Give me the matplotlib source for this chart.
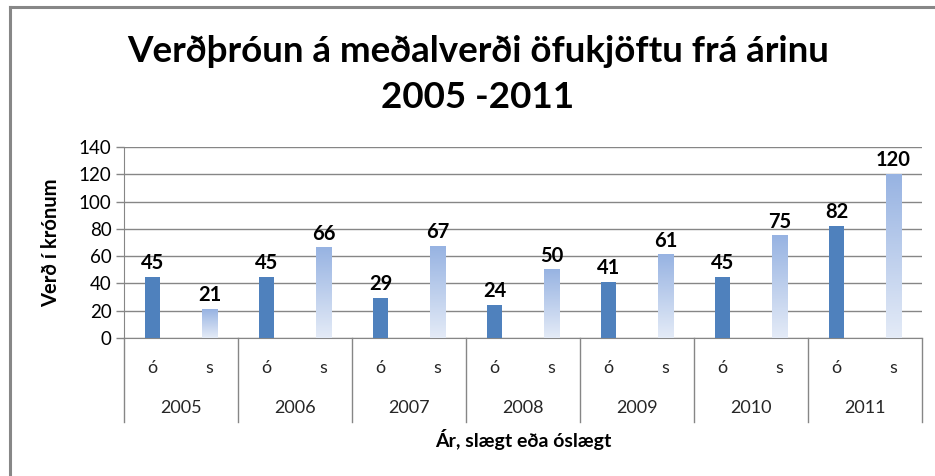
#!/usr/bin/env python3
"""Price development of average value 2005-2011, grouped by year and category."""

import matplotlib.pyplot as plt
import numpy as np
from matplotlib.lines import Line2D
from matplotlib.colors import LinearSegmentedColormap

years = ["2005", "2006", "2007", "2008", "2009", "2010", "2011"]
kinds = ["ó", "s"]
values_o = [45, 45, 29, 24, 41, 45, 82]
values_s = [21, 66, 67, 50, 61, 75, 120]

plt.rcParams["font.family"] = ["Lato", "DejaVu Sans"]

W, H = 935, 476
fig = plt.figure(figsize=(W / 100, H / 100), dpi=100)
fig.patch.set_facecolor("white")

left, right, top, bottom = 124, 922, 147, 338
ax = fig.add_axes([left / W, 1 - bottom / H, (right - left) / W, (bottom - top) / H])
ax_h = bottom - top

grey = "#868686"
blue = "#4F81BD"
grad = LinearSegmentedColormap.from_list("sgrad", ["#E4EBF7", "#97B3E2"])

n = len(years)
pos_o = np.arange(n) * 2
pos_s = pos_o + 1
width = 0.27

ax.bar(pos_o, values_o, width=width, color=blue, zorder=3)
gradient = np.linspace(0, 1, 256).reshape(-1, 1)
for x, v in zip(pos_s, values_s):
    ax.imshow(gradient, cmap=grad, origin="lower", aspect="auto",
              extent=[x - width / 2, x + width / 2, 0, v], zorder=3)

for x, v in zip(pos_o, values_o):
    ax.text(x, v + 3, str(v), ha="center", va="bottom", fontsize=14.5, fontweight="bold", color="black")
for x, v in zip(pos_s, values_s):
    ax.text(x, v + 3, str(v), ha="center", va="bottom", fontsize=14.5, fontweight="bold", color="black")

ax.set_xlim(-0.5, 2 * n - 0.5)
ax.set_ylim(0, 140)
ax.set_yticks(np.arange(0, 141, 20))
ax.tick_params(axis="y", labelsize=13.5, length=6, color=grey, width=1, pad=3)
ax.tick_params(axis="x", length=0, labelbottom=False)
ax.yaxis.grid(True, color=grey, linewidth=1, zorder=0)
ax.set_axisbelow(True)
for side in ["top", "right"]:
    ax.spines[side].set_visible(False)
ax.spines["left"].set_color(grey)
ax.spines["bottom"].set_color(grey)

xt = ax.get_xaxis_transform()
for x, k in zip(np.concatenate([pos_o, pos_s]), [kinds[0]] * n + [kinds[1]] * n):
    ax.text(x, -30 / ax_h, k, transform=xt, ha="center", va="center", fontsize=13, color="#262626")
for i, yr in enumerate(years):
    ax.text(2 * i + 0.5, -70 / ax_h, yr, transform=xt, ha="center", va="center", fontsize=13, color="#262626")
for b in np.arange(-0.5, 2 * n, 2):
    ax.add_line(Line2D([b, b], [0, -84 / ax_h], transform=xt, color=grey, lw=1, clip_on=False))

fig.text(523 / W, 1 - 440 / H, "Ár, slægt eða óslægt", ha="center", va="center",
         fontsize=14, fontweight="bold")
fig.text(51 / W, 1 - 243 / H, "Verð í krónum", rotation=90, ha="center", va="center",
         fontsize=14.5, fontweight="bold")

fig.text(478 / W, 1 - 52 / H, "Verðþróun á meðalverði öfukjöftu frá árinu", ha="center", va="center",
         fontsize=26.5, fontweight="bold")
fig.text(478 / W, 1 - 97 / H, "2005 -2011", ha="center", va="center", fontsize=26.5, fontweight="bold")

# chart frame (top and left edges visible)
fig.add_artist(Line2D([10 / W, 10 / W], [0, 1 - 7 / H], transform=fig.transFigure, color="#878787", lw=2.2))
fig.add_artist(Line2D([10 / W, 1], [1 - 7 / H, 1 - 7 / H], transform=fig.transFigure, color="#878787", lw=2.2))

fig.savefig("out.png", dpi=100)
